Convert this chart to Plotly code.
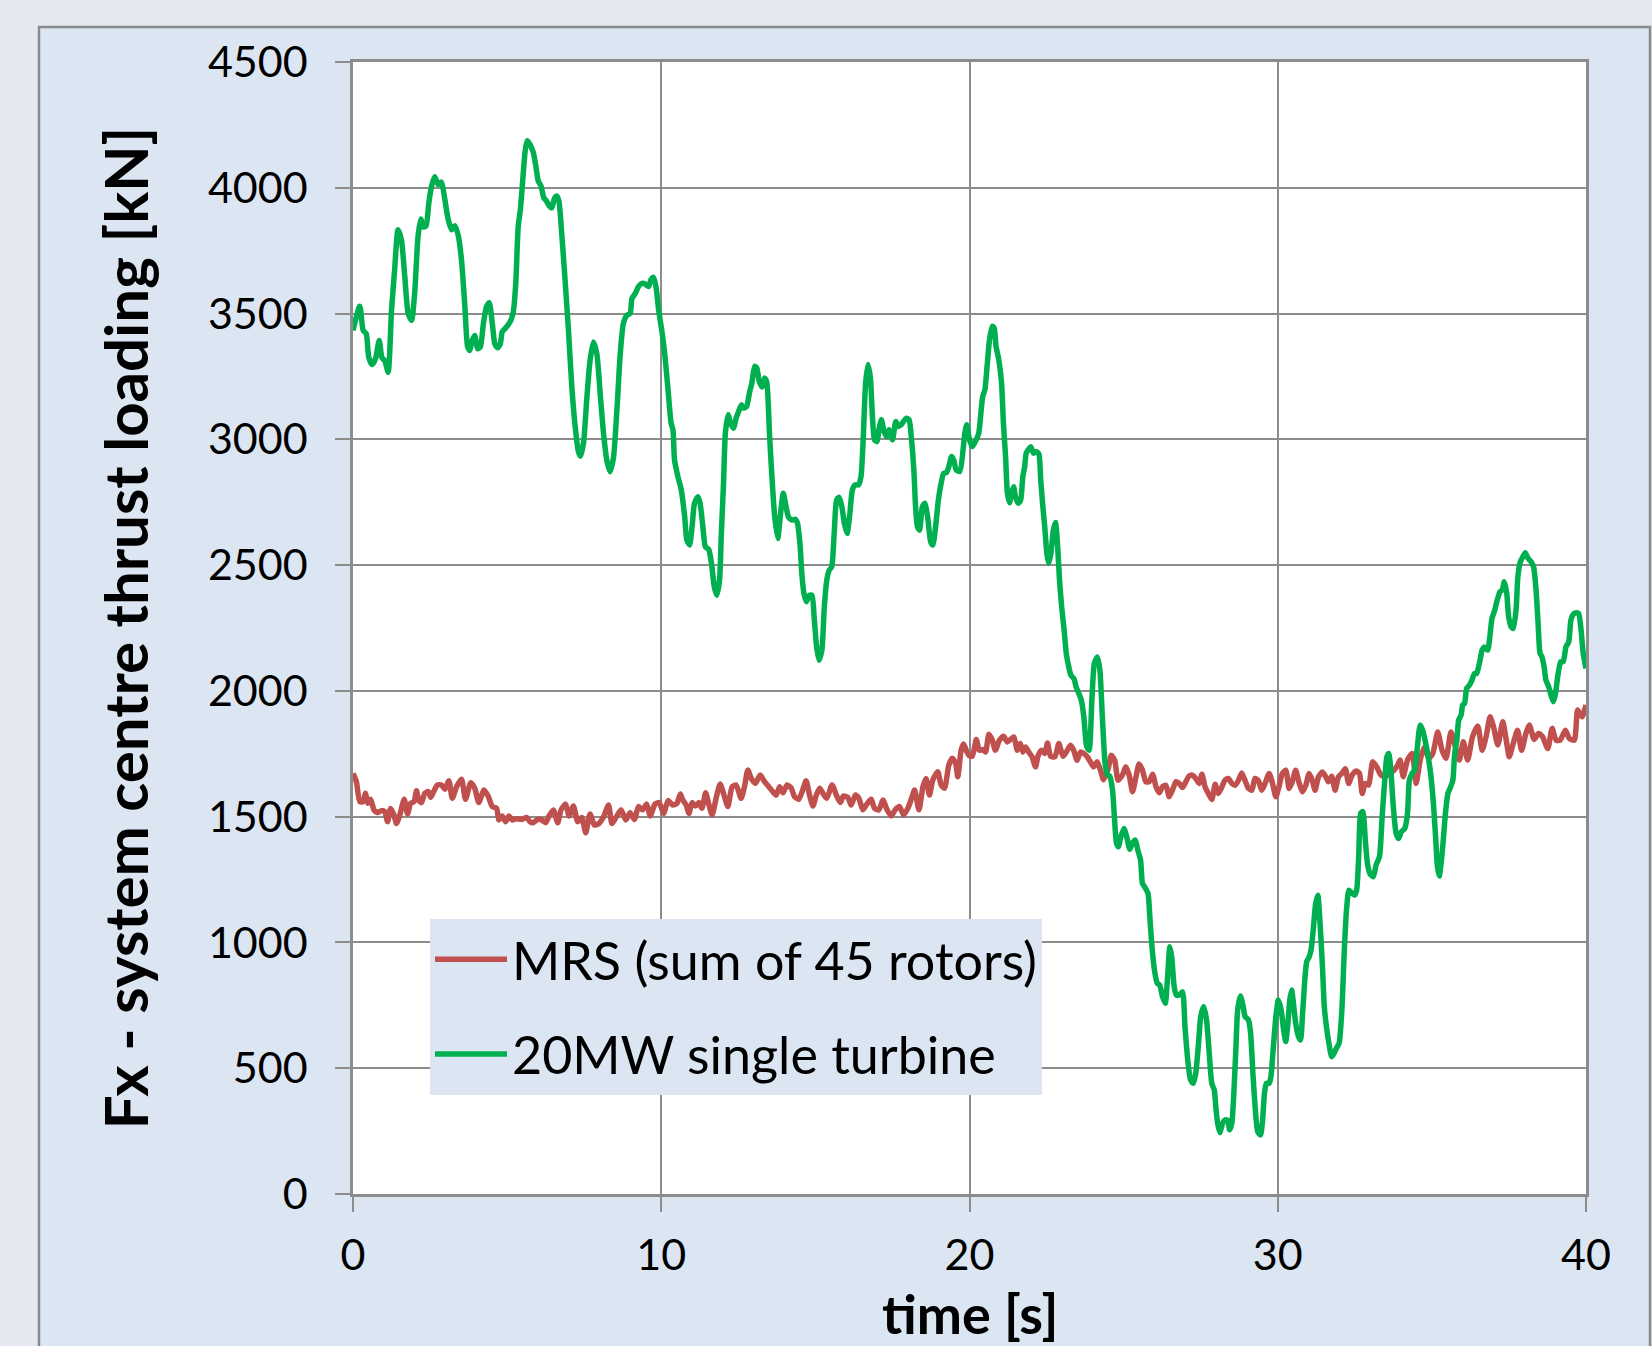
import plotly.graph_objects as go

# ---------------- data ----------------
green_t = [0.00,0.22,0.33,0.43,0.51,0.62,0.73,0.85,0.94,1.03,1.14,1.25,1.35,1.46,1.57,1.68,1.79,1.90,2.00,2.11,
 2.20,2.28,2.37,2.46,2.55,2.65,2.76,2.87,2.98,3.09,3.20,3.30,3.41,3.52,3.63,3.72,3.79,3.85,3.95,4.04,
 4.13,4.23,4.33,4.42,4.52,4.60,4.69,4.78,4.84,4.93,5.02,5.12,5.20,5.28,5.36,5.43,5.50,5.58,5.65,5.74,
 5.85,5.93,6.01,6.10,6.19,6.28,6.36,6.45,6.53,6.61,6.68,6.77,6.88,6.99,7.10,7.20,7.31,7.38,7.48,7.58,
 7.69,7.80,7.91,8.02,8.13,8.24,8.34,8.45,8.56,8.67,8.77,8.88,8.99,9.05,9.16,9.26,9.37,9.48,9.59,9.67,
 9.75,9.83,9.91,10.02,10.11,10.22,10.32,10.38,10.43,10.54,10.65,10.76,10.83,10.92,11.00,11.08,11.19,11.26,11.35,11.43,
 11.54,11.63,11.72,11.80,11.89,11.95,12.02,12.08,12.17,12.25,12.34,12.43,12.51,12.60,12.68,12.77,12.86,12.94,13.03,13.10,
 13.18,13.27,13.35,13.42,13.51,13.59,13.68,13.78,13.86,13.96,14.05,14.13,14.24,14.35,14.42,14.50,14.56,14.63,14.71,14.80,
 14.89,14.96,15.04,15.12,15.21,15.29,15.37,15.45,15.53,15.61,15.69,15.77,15.86,15.94,16.03,16.12,16.20,16.29,16.40,16.48,
 16.55,16.63,16.71,16.79,16.85,16.92,17.00,17.07,17.14,17.23,17.31,17.39,17.50,17.61,17.69,17.78,17.86,17.95,18.04,18.12,
 18.20,18.25,18.31,18.38,18.47,18.55,18.64,18.74,18.81,18.90,18.99,19.07,19.16,19.25,19.33,19.42,19.49,19.57,19.68,19.85,
 19.91,20.00,20.09,20.19,20.30,20.39,20.43,20.50,20.57,20.65,20.74,20.80,20.86,20.95,21.04,21.10,21.17,21.23,21.30,21.36,
 21.43,21.49,21.58,21.66,21.73,21.79,21.84,21.92,21.99,22.08,22.16,22.25,22.31,22.38,22.44,22.51,22.57,22.64,22.72,22.79,
 22.86,22.92,22.99,23.07,23.14,23.20,23.29,23.39,23.46,23.55,23.63,23.71,23.80,23.88,23.97,24.05,24.15,24.23,24.31,24.40,
 24.48,24.55,24.64,24.70,24.77,24.83,24.91,25.01,25.10,25.20,25.29,25.38,25.46,25.55,25.61,25.68,25.79,25.85,25.92,26.00,
 26.09,26.17,26.26,26.35,26.42,26.50,26.56,26.64,26.71,26.80,26.91,26.99,27.08,27.17,27.26,27.34,27.43,27.50,27.60,27.69,
 27.77,27.86,27.94,28.00,28.05,28.12,28.21,28.29,28.38,28.44,28.51,28.57,28.64,28.70,28.79,28.88,28.94,29.05,29.12,29.20,
 29.29,29.35,29.44,29.50,29.57,29.63,29.72,29.78,29.85,29.94,30.02,30.11,30.19,30.26,30.32,30.39,30.45,30.52,30.58,30.67,
 30.74,30.80,30.87,30.94,31.02,31.08,31.15,31.23,31.30,31.36,31.45,31.51,31.58,31.66,31.75,31.83,31.90,31.99,32.08,32.16,
 32.23,32.31,32.39,32.49,32.56,32.63,32.69,32.76,32.84,32.91,32.99,33.10,33.19,33.30,33.38,33.47,33.54,33.60,33.66,33.75,
 33.84,33.92,34.01,34.12,34.21,34.27,34.36,34.44,34.53,34.62,34.70,34.79,34.88,34.96,35.05,35.12,35.18,35.24,35.31,35.37,
 35.44,35.52,35.61,35.68,35.74,35.81,35.87,35.95,36.00,36.06,36.13,36.22,36.30,36.38,36.45,36.54,36.63,36.70,36.81,36.88,
 36.95,37.04,37.12,37.21,37.28,37.35,37.43,37.49,37.57,37.64,37.73,37.79,37.87,37.95,38.03,38.12,38.22,38.30,38.38,38.44,
 38.51,38.57,38.64,38.70,38.79,38.88,38.94,39.01,39.09,39.18,39.26,39.35,39.44,39.51,39.59,39.68,39.76,39.84,39.91,40.00]
green_fx = [3433,3529,3433,3420,3327,3297,3320,3393,3324,3313,3267,3513,3673,3833,3793,3647,3500,3473,3580,3807,
 3876,3844,3849,3940,4007,4044,4013,4023,3953,3873,3833,3849,3813,3713,3527,3367,3353,3387,3413,3360,
 3367,3460,3527,3543,3460,3380,3364,3380,3427,3440,3453,3473,3507,3620,3847,3913,4020,4140,4187,4173,
 4140,4087,4027,4007,3960,3947,3929,3920,3956,3967,3947,3820,3633,3433,3207,3060,2953,2933,2987,3153,
 3313,3387,3340,3180,3020,2913,2871,2927,3113,3340,3460,3493,3500,3560,3580,3607,3620,3617,3607,3636,
 3644,3607,3520,3430,3343,3197,3064,3038,2918,2852,2799,2693,2600,2580,2653,2746,2772,2746,2653,2573,
 2562,2507,2414,2380,2440,2626,2825,3025,3098,3064,3044,3084,3111,3137,3124,3131,3184,3224,3290,3284,
 3230,3208,3244,3230,3025,2852,2693,2606,2693,2786,2732,2690,2679,2682,2666,2586,2467,2387,2354,2380,
 2380,2294,2175,2122,2161,2334,2440,2480,2493,2626,2759,2770,2732,2666,2626,2706,2799,2819,2819,2852,
 2998,3224,3297,3237,3091,2998,2991,3044,3078,3031,3011,3038,2998,3071,3051,3058,3071,3084,3078,2998,
 2865,2732,2653,2639,2732,2746,2693,2593,2580,2653,2759,2819,2865,2868,2892,2932,2918,2878,2872,3025,
 3058,2998,2971,2991,3025,3131,3171,3197,3290,3396,3450,3443,3370,3317,3224,3064,2932,2786,2748,2786,
 2812,2772,2746,2759,2852,2892,2945,2961,2971,2945,2952,2942,2839,2732,2653,2546,2507,2546,2639,2669,
 2573,2440,2334,2241,2148,2108,2062,2048,2015,1989,1962,1896,1780,1764,1963,2109,2135,2082,1897,1711,
 1665,1661,1605,1500,1394,1380,1420,1453,1420,1370,1396,1407,1367,1327,1235,1221,1195,1102,983,890,
 838,831,785,758,851,983,943,824,791,791,804,665,533,454,440,480,599,705,745,692,
 573,440,414,334,281,244,281,295,292,255,281,387,573,732,787,745,705,692,639,467,
 308,248,235,281,401,440,440,467,573,705,771,732,652,606,665,771,811,745,679,626,
 612,705,838,924,943,970,1049,1155,1188,1102,904,745,665,599,546,560,579,599,732,970,
 1129,1208,1198,1188,1208,1354,1513,1520,1407,1314,1274,1261,1308,1341,1486,1645,1738,1751,1698,1539,
 1433,1413,1440,1453,1513,1645,1672,1685,1778,1864,1844,1798,1738,1672,1553,1420,1301,1264,1327,1407,
 1513,1592,1619,1645,1751,1804,1884,1904,1944,1950,2010,2023,2043,2069,2069,2109,2162,2175,2162,2215,
 2288,2321,2361,2394,2401,2434,2387,2295,2255,2248,2321,2454,2513,2533,2549,2527,2513,2493,2401,2281,
 2149,2136,2096,2043,2016,1977,1957,1990,2063,2116,2116,2175,2195,2281,2305,2311,2308,2242,2149,2089]

mrs_t = [0.00,0.11,0.22,0.33,0.40,0.49,0.57,0.68,0.79,0.92,1.03,1.12,1.22,1.33,1.41,1.52,1.66,1.77,1.87,1.98,
 2.06,2.13,2.22,2.33,2.44,2.52,2.63,2.74,2.87,2.98,3.11,3.22,3.36,3.52,3.65,3.82,3.95,4.08,4.25,4.39,
 4.52,4.66,4.73,4.84,4.95,5.06,5.17,5.31,5.47,5.63,5.74,5.85,5.99,6.12,6.25,6.36,6.50,6.64,6.75,6.90,
 7.01,7.15,7.29,7.42,7.55,7.69,7.83,7.98,8.13,8.29,8.40,8.53,8.70,8.85,8.99,9.13,9.26,9.39,9.53,9.64,
 9.80,9.93,10.08,10.22,10.37,10.51,10.62,10.70,10.81,10.90,11.00,11.11,11.22,11.32,11.44,11.55,11.65,11.78,11.91,12.05,
 12.16,12.30,12.43,12.59,12.70,12.81,12.92,13.06,13.21,13.35,13.49,13.62,13.73,13.84,13.95,14.08,14.22,14.32,14.46,14.57,
 14.70,14.81,14.92,15.03,15.14,15.26,15.37,15.54,15.68,15.81,15.91,16.05,16.16,16.30,16.41,16.54,16.67,16.81,16.92,17.06,
 17.19,17.32,17.46,17.60,17.73,17.86,18.00,18.14,18.22,18.36,18.49,18.59,18.70,18.81,18.97,19.08,19.19,19.33,19.44,19.55,
 19.62,19.73,19.81,19.91,19.98,20.09,20.22,20.32,20.43,20.52,20.63,20.74,20.84,20.97,21.11,21.22,21.33,21.44,21.55,21.65,
 21.73,21.82,21.92,22.03,22.14,22.23,22.34,22.44,22.53,22.63,22.77,22.90,23.03,23.14,23.28,23.38,23.49,23.60,23.71,23.82,
 23.92,24.03,24.14,24.25,24.35,24.50,24.60,24.71,24.82,24.96,25.07,25.18,25.29,25.40,25.50,25.61,25.72,25.83,25.94,26.05,
 26.16,26.26,26.37,26.48,26.59,26.70,26.80,26.91,27.02,27.12,27.23,27.34,27.45,27.54,27.64,27.75,27.86,27.97,28.07,28.18,
 28.29,28.40,28.51,28.62,28.72,28.83,28.94,29.05,29.16,29.26,29.37,29.48,29.59,29.72,29.83,29.94,30.04,30.15,30.26,30.37,
 30.47,30.58,30.69,30.80,30.91,31.02,31.12,31.21,31.32,31.45,31.56,31.64,31.75,31.86,31.97,32.08,32.19,32.30,32.41,32.54,
 32.65,32.74,32.84,32.95,33.08,33.21,33.35,33.49,33.62,33.75,33.89,33.97,34.07,34.21,34.36,34.49,34.62,34.76,34.90,35.03,
 35.19,35.33,35.46,35.62,35.76,35.89,36.02,36.16,36.32,36.49,36.63,36.76,36.89,37.00,37.14,37.30,37.43,37.51,37.64,37.78,
 37.91,38.05,38.16,38.32,38.46,38.59,38.76,38.90,39.03,39.16,39.33,39.46,39.62,39.73,39.87,40.00]
mrs_fx = [1672,1639,1560,1560,1593,1553,1569,1527,1516,1524,1520,1480,1533,1507,1473,1507,1569,1511,1553,1560,
 1603,1566,1556,1593,1600,1577,1603,1626,1626,1609,1643,1573,1619,1649,1569,1635,1613,1556,1606,1580,
 1540,1533,1487,1503,1480,1503,1487,1492,1489,1497,1480,1476,1489,1487,1476,1503,1527,1476,1527,1550,
 1503,1542,1480,1497,1436,1511,1467,1473,1500,1546,1473,1497,1527,1487,1516,1489,1540,1527,1550,1503,
 1550,1556,1513,1564,1546,1553,1590,1566,1546,1513,1556,1542,1556,1533,1595,1546,1507,1573,1630,1580,
 1540,1619,1626,1573,1619,1686,1652,1633,1666,1639,1619,1599,1586,1619,1595,1626,1613,1580,1569,1599,
 1643,1586,1542,1586,1613,1590,1573,1626,1586,1556,1582,1577,1546,1586,1573,1527,1550,1569,1533,1527,
 1566,1529,1503,1529,1540,1507,1533,1580,1606,1527,1619,1652,1586,1646,1679,1626,1613,1706,1732,1712,
 1659,1765,1789,1759,1744,1740,1807,1764,1767,1757,1828,1804,1764,1804,1820,1797,1807,1817,1764,1791,
 1757,1777,1757,1738,1698,1744,1764,1751,1793,1740,1738,1791,1740,1757,1784,1764,1724,1757,1751,1738,
 1718,1698,1718,1685,1647,1691,1744,1724,1645,1665,1698,1665,1599,1658,1709,1685,1639,1639,1669,1619,
 1595,1619,1625,1579,1608,1639,1632,1616,1639,1661,1665,1652,1632,1669,1619,1592,1568,1629,1592,1616,
 1645,1652,1632,1625,1643,1674,1643,1612,1605,1652,1643,1605,1632,1672,1632,1579,1619,1672,1685,1612,
 1639,1685,1635,1599,1625,1672,1645,1605,1658,1678,1658,1639,1661,1605,1658,1672,1691,1632,1665,1682,
 1672,1592,1632,1626,1718,1698,1665,1659,1672,1682,1705,1725,1659,1725,1751,1632,1725,1778,1732,1751,
 1837,1764,1732,1837,1778,1725,1798,1725,1818,1860,1764,1818,1897,1857,1785,1877,1791,1738,1791,1844,
 1764,1831,1864,1807,1831,1818,1771,1851,1804,1804,1844,1811,1804,1924,1897,1944]

x_ticks = [0, 10, 20, 30, 40]
y_ticks = [0, 500, 1000, 1500, 2000, 2500, 3000, 3500, 4000, 4500]
series_names = ["MRS (sum of 45 rotors)", "20MW single turbine"]
x_title = "time [s]"
y_title = "Fx - system centre thrust loading [kN]"

# ---------------- figure ----------------
W, H = 1652, 1346
L, R, T, B = 353, 1586, 62, 1194
pw, ph = R - L, B - T

def px(x):
    return (x - L) / pw

def py(y):
    return (B - y) / ph

FONT = "Lato, 'Open Sans', sans-serif"
GRID = "#8C8C8C"

fig = go.Figure()
fig.add_trace(go.Scatter(x=mrs_t, y=mrs_fx, mode="lines", name=series_names[0],
                         legendgroup="a",
                         line=dict(color="#C0504D", width=5.5, shape="spline", smoothing=0.6)))
fig.add_trace(go.Scatter(x=green_t, y=green_fx, mode="lines", name=series_names[1],
                         legendgroup="b",
                         line=dict(color="#00B050", width=5.5, shape="spline", smoothing=0.6)))

fig.update_layout(
    width=W, height=H,
    margin=dict(l=L, r=W - R, t=T, b=H - B, pad=0, autoexpand=False),
    paper_bgcolor="#E4E8F0",
    plot_bgcolor="#FFFFFF",
    font=dict(family=FONT, color="#000000", size=43),
    showlegend=True,
    legend=dict(
        x=px(430), y=py(919), xanchor="left", yanchor="top",
        bgcolor="#DCE6F2", borderwidth=0,
        font=dict(family=FONT, size=52, color="#000000"),
        traceorder="grouped", tracegroupgap=24,
        itemwidth=72,
    ),
    shapes=[
        dict(type="rect", xref="paper", yref="paper", layer="below",
             x0=px(39), x1=px(1650), y0=py(1400), y1=py(27),
             fillcolor="#DCE6F2", line=dict(color="#8A8A8A", width=2.5)),
        dict(type="rect", xref="paper", yref="paper", layer="below",
             x0=0, x1=1, y0=0, y1=1,
             fillcolor="#FFFFFF", line=dict(width=0)),
    ],
    annotations=[
        dict(text="<b>" + x_title + "</b>", xref="paper", yref="paper",
             x=0.5, y=py(1313), xanchor="center", yanchor="middle",
             showarrow=False,
             font=dict(family=FONT, size=54, color="#000000")),
    ],
)

fig.update_xaxes(
    range=[0, 40], tickvals=x_ticks, ticktext=[str(v) for v in x_ticks],
    showgrid=True, gridcolor=GRID, gridwidth=2,
    showline=True, linecolor=GRID, linewidth=2.5, mirror=True,
    ticks="outside", ticklen=15, tickwidth=2, tickcolor=GRID,
    ticklabelstandoff=7,
    tickfont=dict(family=FONT, size=43, color="#000000"),
    zeroline=False, automargin=False,
)
fig.update_yaxes(
    range=[0, 4500], tickvals=y_ticks, ticktext=[str(v) for v in y_ticks],
    showgrid=True, gridcolor=GRID, gridwidth=2,
    showline=True, linecolor=GRID, linewidth=2.5, mirror=True,
    ticks="outside", ticklen=15, tickwidth=2, tickcolor=GRID,
    ticklabelstandoff=19,
    tickfont=dict(family=FONT, size=43, color="#000000"),
    zeroline=False, automargin=False,
    title=dict(text="<b>" + y_title + "</b>", standoff=40,
               font=dict(family=FONT, size=60, color="#000000")),
)

fig.write_html("out.html")
